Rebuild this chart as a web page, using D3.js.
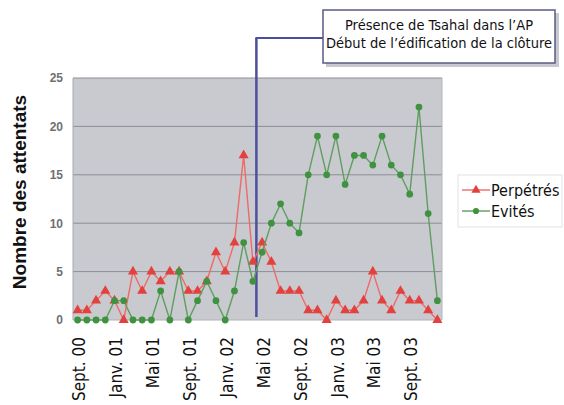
<!DOCTYPE html>
<html><head><meta charset="utf-8">
<script src="https://cdn.jsdelivr.net/npm/d3@7"></script>
<style>
html,body{margin:0;padding:0;background:#fff;}
svg{display:block;}
</style></head>
<body>
<svg id="chart" width="564" height="405"></svg>
<script>
const months = ["Sept. 00","Oct. 00","Nov. 00","Déc. 00","Janv. 01","Févr. 01","Mars 01","Avr. 01","Mai 01","Juin 01","Juil. 01","Août 01",
"Sept. 01","Oct. 01","Nov. 01","Déc. 01","Janv. 02","Févr. 02","Mars 02","Avr. 02","Mai 02","Juin 02","Juil. 02","Août 02",
"Sept. 02","Oct. 02","Nov. 02","Déc. 02","Janv. 03","Févr. 03","Mars 03","Avr. 03","Mai 03","Juin 03","Juil. 03","Août 03",
"Sept. 03","Oct. 03","Nov. 03","Déc. 03"];
const tickLabels = ["Sept. 00","Janv. 01","Mai 01","Sept. 01","Janv. 02","Mai 02","Sept. 02","Janv. 03","Mai 03","Sept. 03"];
const perpetres = [1,1,2,3,2,0,5,3,5,4,5,5,3,3,4,7,5,8,17,6,8,6,3,3,3,1,1,0,2,1,1,2,5,2,1,3,2,2,1,0];
const evites    = [0,0,0,0,2,2,0,0,0,3,0,5,0,2,4,2,0,3,8,4,7,10,12,10,9,15,19,15,19,14,17,17,16,19,16,15,13,22,11,2];
const yTicks = [0,5,10,15,20,25];
const seriesNames = ["Perpétrés","Evités"];
const annotationLines = ["Présence de Tsahal dans l’AP","Début de l’édification de la clôture"];
const annotationMonth = "Avr. 02";

const svg = d3.select("#chart");
const L = 73, R = 442, T = 78, B = 320;
const x = d3.scalePoint().domain(months).range([L, R]).padding(0.5);
const y = d3.scaleLinear().domain([0, 25]).range([B, T]);
const cond = "'Liberation Sans Narrow','DejaVu Sans Condensed','Arial Narrow',sans-serif";

// plot background
svg.append("rect").attr("x", L).attr("y", T).attr("width", R - L).attr("height", B - T)
  .attr("fill", "#c9cacf");
// gridlines
svg.append("g").selectAll("line").data(yTicks.filter(d => d > 0)).join("line")
  .attr("x1", L).attr("x2", R).attr("y1", d => y(d)).attr("y2", d => y(d))
  .attr("stroke", "#8d8e96").attr("stroke-width", 1);
svg.append("line").attr("x1", L).attr("x2", L).attr("y1", T).attr("y2", B).attr("stroke", "#a9aab0");
svg.append("line").attr("x1", R).attr("x2", R).attr("y1", T).attr("y2", B).attr("stroke", "#b5b6bb");
svg.append("line").attr("x1", L).attr("x2", R).attr("y1", B).attr("y2", B).attr("stroke", "#b0b1b6");

// y axis labels
const yAxis = d3.axisLeft(y).tickValues(yTicks).tickSize(0).tickPadding(0);
const gy = svg.append("g").attr("transform", `translate(${L - 10},0)`).call(yAxis);
gy.select(".domain").remove();
gy.selectAll("text").attr("fill", "#707074").attr("font-size", 12).attr("font-weight", "bold")
  .attr("font-family", "'Liberation Sans',Arial,sans-serif");

// x axis labels
const xAxis = d3.axisBottom(x).tickValues(tickLabels).tickSize(0).tickPadding(0);
const gx = svg.append("g").attr("transform", `translate(0,${B})`).call(xAxis);
gx.select(".domain").remove();
gx.selectAll("text")
  .attr("font-family", cond).attr("font-size", 17).attr("fill", "#111")
  .attr("text-anchor", "end")
  .attr("transform", "rotate(-90)")
  .attr("x", -17).attr("y", 1).attr("dy", "0.36em");

// y title
svg.append("text").attr("transform", "translate(26,192) rotate(-90)")
  .attr("text-anchor", "middle").attr("font-family", "'Liberation Sans',Arial,sans-serif")
  .attr("font-weight", "bold").attr("font-size", 19).attr("fill", "#111")
  .text("Nombre des attentats");

// vertical event line + annotation
const vx = x(annotationMonth) + 3.5;
svg.append("line").attr("x1", vx).attr("x2", vx).attr("y1", 38).attr("y2", B - 3)
  .attr("stroke", "#4b4f9c").attr("stroke-width", 2.5);
svg.append("line").attr("x1", vx - 1).attr("x2", 324).attr("y1", 38).attr("y2", 38)
  .attr("stroke", "#4b4f9c").attr("stroke-width", 2);
svg.append("rect").attr("x", 326).attr("y", 13).attr("width", 233).attr("height", 54)
  .attr("fill", "#b9bac4").attr("opacity", 0.8);
svg.append("rect").attr("x", 323).attr("y", 10).attr("width", 232).attr("height", 53)
  .attr("fill", "#fff").attr("stroke", "#5a5b86").attr("stroke-width", 1.5);
svg.append("g").selectAll("text").data(annotationLines).join("text")
  .attr("x", 439).attr("y", (d, i) => 30 + i * 18)
  .attr("text-anchor", "middle").attr("font-family", cond).attr("font-size", 14.5).attr("fill", "#111")
  .text(d => d);

// series
const colors = ["#e2413e", "#3f9240"];
const lineColors = ["#ee6a66", "#5e9e5e"];
const data = [perpetres, evites];
const line = d3.line().x((d, i) => x(months[i])).y(d => y(d));
data.forEach((vals, s) => {
  svg.append("path").datum(vals).attr("d", line).attr("fill", "none")
    .attr("stroke", lineColors[s]).attr("stroke-width", 1.4);
  const sym = d3.symbol().type(s === 0 ? d3.symbolTriangle : d3.symbolCircle).size(s === 0 ? 44 : 36);
  svg.append("g").selectAll("path").data(vals).join("path")
    .attr("transform", (d, i) => `translate(${x(months[i])},${y(d)})`)
    .attr("d", sym).attr("fill", colors[s]);
});

// legend
const lg = svg.append("g");
lg.append("rect").attr("x", 458).attr("y", 175).attr("width", 104).attr("height", 52)
  .attr("fill", "#fff").attr("stroke", "#e2e2e6");
seriesNames.forEach((n, s) => {
  const yy = 190 + s * 21;
  lg.append("line").attr("x1", 462).attr("x2", 490).attr("y1", yy).attr("y2", yy)
    .attr("stroke", lineColors[s]).attr("stroke-width", 1.4);
  lg.append("path").attr("transform", `translate(476,${yy})`)
    .attr("d", d3.symbol().type(s === 0 ? d3.symbolTriangle : d3.symbolCircle).size(s === 0 ? 36 : 30))
    .attr("fill", colors[s]);
  lg.append("text").attr("x", 491).attr("y", yy).attr("dy", "0.36em")
    .attr("font-family", cond).attr("font-size", 16).attr("fill", "#111").text(n);
});
</script>
</body></html>
